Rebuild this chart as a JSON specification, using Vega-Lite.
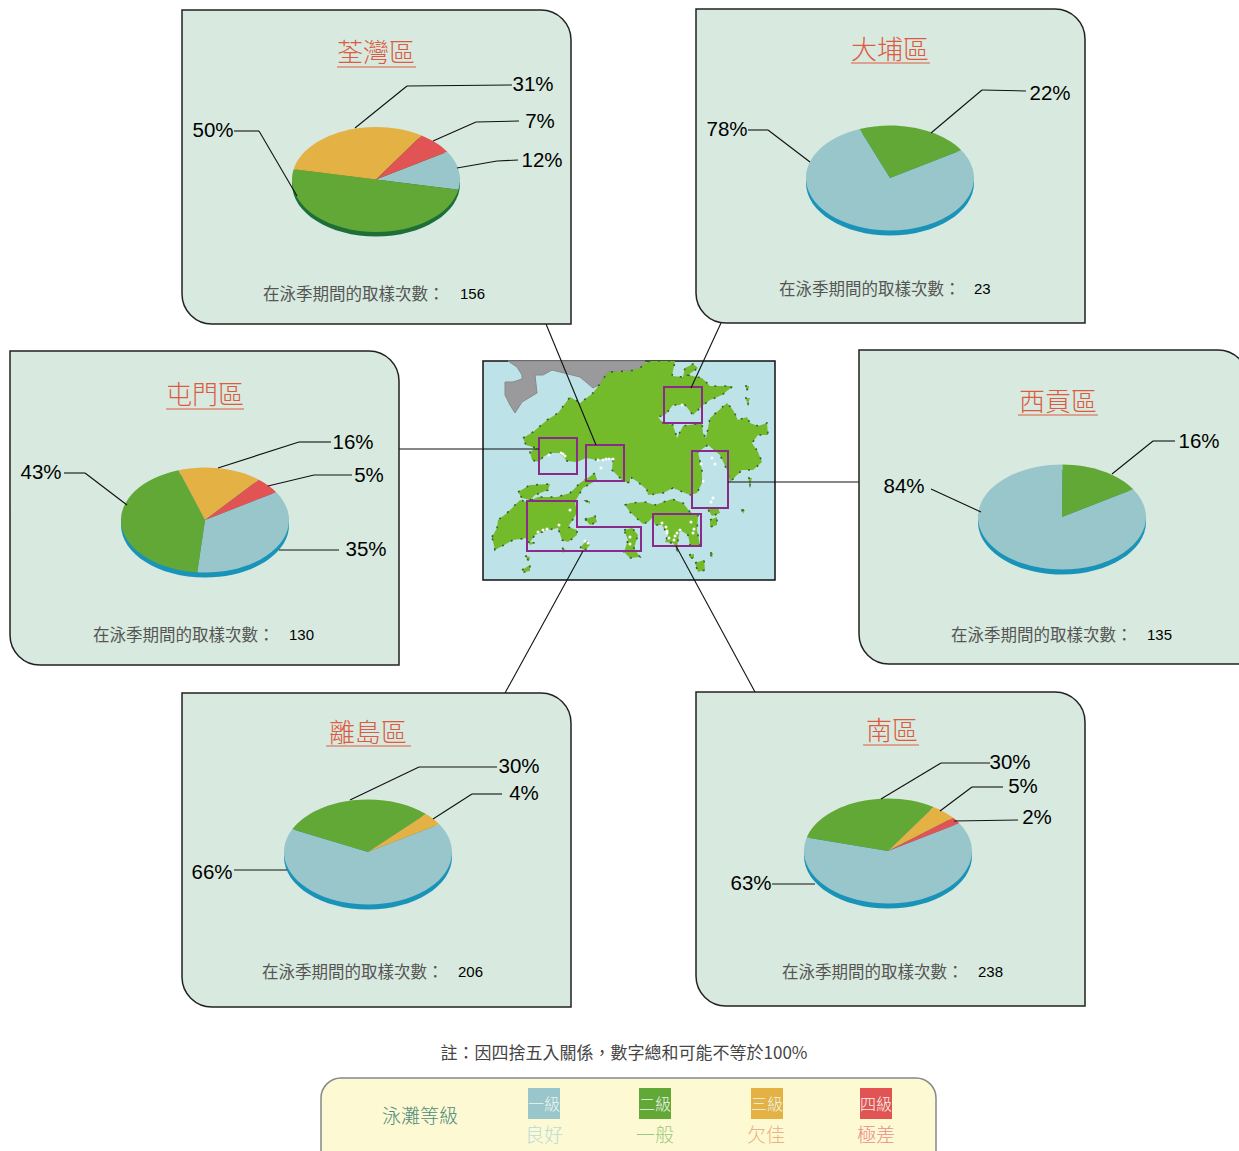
{"$schema":"https://vega.github.io/schema/vega-lite/v6.json","width":1239,"height":1151,"padding":0,"autosize":{"type":"none"},"background":"#ffffff",
"config":{"view":{"stroke":null},"axis":{"disable":true},"legend":{"disable":true},"rule":{"stroke":"#111111","strokeWidth":1.1},
"style":{"pct":{"font":"Liberation Sans","fontSize":20.5,"fill":"#111111","dy":1},"ttl":{"font":"Noto Sans CJK TC","fontSize":26,"fontWeight":300,"dy":1.5},"smp":{"font":"Noto Sans CJK TC","fontSize":16.5,"align":"left","dy":1},"num":{"font":"Liberation Sans","fontSize":15,"fill":"#111111","align":"left"},"lgd":{"font":"Noto Sans CJK TC","fontSize":19,"fontWeight":300,"dy":1}}},
"datasets":{
"pies":[
{"district":"荃灣區","grade_no":1,"grade":"良好","percent":12},{"district":"荃灣區","grade_no":2,"grade":"一般","percent":50},{"district":"荃灣區","grade_no":3,"grade":"欠佳","percent":31},{"district":"荃灣區","grade_no":4,"grade":"極差","percent":7},
{"district":"大埔區","grade_no":1,"grade":"良好","percent":78},{"district":"大埔區","grade_no":2,"grade":"一般","percent":22},
{"district":"西貢區","grade_no":1,"grade":"良好","percent":84},{"district":"西貢區","grade_no":2,"grade":"一般","percent":16},
{"district":"屯門區","grade_no":1,"grade":"良好","percent":35},{"district":"屯門區","grade_no":2,"grade":"一般","percent":43},{"district":"屯門區","grade_no":3,"grade":"欠佳","percent":16},{"district":"屯門區","grade_no":4,"grade":"極差","percent":5},
{"district":"離島區","grade_no":1,"grade":"良好","percent":66},{"district":"離島區","grade_no":2,"grade":"一般","percent":30},{"district":"離島區","grade_no":3,"grade":"欠佳","percent":4},
{"district":"南區","grade_no":1,"grade":"良好","percent":63},{"district":"南區","grade_no":2,"grade":"一般","percent":30},{"district":"南區","grade_no":3,"grade":"欠佳","percent":5},{"district":"南區","grade_no":4,"grade":"極差","percent":2}],
"shenzhen":[{"type":"Feature","properties":{},"geometry":{"type":"Polygon","coordinates":[[[508,361],[517,367],[522,375],[522,379],[513,382],[505,382],[505,395],[510,405],[515,413],[522,402],[537,393],[535,375],[543,375],[552,370],[580,377],[593,388],[599,385],[608,372],[620,371],[630,371],[638,372],[645,368],[645,361],[508,361]]]}}],
"land":[{"type":"Feature","properties":{"name":"land"},"geometry":{"type":"MultiPolygon","coordinates":[
[[[523,438],[533,432],[547,420],[558,413],[570,397],[580,403],[593,393],[599,385],[608,372],[630,371],[640,368],[645,363],[650,361],[675,361],[672,376],[683,377],[685,368],[693,364],[698,368],[688,375],[702,378],[710,386],[733,386],[722,395],[710,400],[702,406],[693,415],[685,405],[673,405],[665,415],[658,417],[663,423],[673,425],[677,438],[683,426],[702,423],[703,433],[706,438],[710,418],[727,403],[733,410],[738,420],[747,417],[750,423],[758,426],[767,423],[768,435],[758,435],[752,443],[758,452],[762,462],[753,470],[742,470],[730,482],[727,470],[720,455],[708,445],[698,452],[702,470],[702,483],[697,493],[690,495],[673,488],[663,493],[648,495],[647,490],[638,482],[630,477],[630,483],[623,481],[612,470],[613,458],[597,460],[586,458],[577,462],[567,461],[560,453],[550,453],[543,457],[539,462],[532,460],[530,452],[536,448],[526,445],[523,438]]],
[[[625,505],[630,503],[645,502],[655,505],[672,499],[683,503],[690,512],[698,515],[697,530],[700,545],[690,545],[688,535],[680,530],[678,540],[677,550],[673,543],[665,542],[668,535],[662,525],[655,525],[653,517],[648,522],[643,524],[630,512],[625,505]]],
[[[492,537],[497,528],[498,520],[507,513],[520,500],[527,502],[538,497],[557,497],[570,493],[580,483],[595,473],[597,480],[583,488],[580,493],[575,502],[577,513],[568,527],[577,530],[577,535],[568,542],[562,540],[558,528],[547,530],[535,535],[530,542],[535,543],[530,545],[527,538],[513,540],[495,550],[492,537]]],
[[[518,492],[530,485],[550,484],[548,490],[535,495],[530,500],[522,498],[518,492]]],
[[[624,530],[632,528],[638,535],[634,548],[640,557],[630,558],[624,552],[628,540],[624,530]]],
[[[707,508],[718,508],[720,513],[712,516],[707,508]]],
[[[710,520],[717,517],[717,525],[710,527],[710,520]]],
[[[695,563],[704,560],[705,570],[698,572],[695,563]]],
[[[689,555],[694,554],[694,558],[690,558],[689,555]]],
[[[710,553],[713,553],[712,558],[710,553]]],
[[[586,501],[590,501],[590,504],[586,501]]],
[[[585,519],[595,516],[597,522],[590,525],[585,519]]],
[[[580,548],[586,541],[590,545],[585,550],[580,548]]],
[[[522,570],[530,565],[530,571],[524,572],[522,570]]],
[[[525,556],[530,557],[529,561],[525,556]]],
[[[562,548],[566,550],[563,553],[562,548]]],
[[[745,386],[749,386],[748,391],[745,386]]],
[[[745,398],[750,398],[748,404],[745,398]]],
[[[748,478],[752,478],[750,485],[748,478]]],
[[[742,510],[745,510],[743,514],[742,510]]]
]}}],
"zones":[{"type":"Feature","properties":{"name":"屯門區"},"geometry":{"type":"Polygon","coordinates":[[[539,438],[577,438],[577,474],[539,474],[539,438]]]}},
{"type":"Feature","properties":{"name":"荃灣區"},"geometry":{"type":"Polygon","coordinates":[[[586,445],[624,445],[624,481],[586,481],[586,445]]]}},
{"type":"Feature","properties":{"name":"大埔區"},"geometry":{"type":"Polygon","coordinates":[[[664,387],[702,387],[702,423],[664,423],[664,387]]]}},
{"type":"Feature","properties":{"name":"西貢區"},"geometry":{"type":"Polygon","coordinates":[[[692,451],[728,451],[728,508],[692,508],[692,451]]]}},
{"type":"Feature","properties":{"name":"南區"},"geometry":{"type":"Polygon","coordinates":[[[653,514],[701,514],[701,546],[653,546],[653,514]]]}},
{"type":"Feature","properties":{"name":"離島區"},"geometry":{"type":"Polygon","coordinates":[[[527,501],[577,501],[577,527],[641,527],[641,551],[527,551],[527,501]]]}}],
"beaches":[{"lon":549,"lat":455},{"lon":561,"lat":453},{"lon":563,"lat":454},{"lon":565,"lat":456},{"lon":598,"lat":460},{"lon":603,"lat":460},{"lon":606,"lat":459},{"lon":609,"lat":459},{"lon":613,"lat":459},{"lon":601,"lat":468},{"lon":682,"lat":405},{"lon":712,"lat":458},{"lon":715,"lat":464},{"lon":701,"lat":464},{"lon":703,"lat":481},{"lon":713,"lat":498},{"lon":711,"lat":502},{"lon":662,"lat":523},{"lon":666,"lat":527},{"lon":667,"lat":531},{"lon":667,"lat":533},{"lon":669,"lat":538},{"lon":674,"lat":540},{"lon":675,"lat":536},{"lon":677,"lat":533},{"lon":680,"lat":530},{"lon":691,"lat":522},{"lon":694,"lat":529},{"lon":693,"lat":533},{"lon":570,"lat":510},{"lon":559,"lat":525},{"lon":547,"lat":529},{"lon":543,"lat":530},{"lon":538,"lat":532},{"lon":585,"lat":541},{"lon":588,"lat":543},{"lon":630,"lat":537},{"lon":630,"lat":544}]
},
"data":{"values":[{}]},
"layer":[
{"mark":{"type":"rect","fill":"#bde2e8","stroke":"#111111","strokeWidth":1.5},"encoding":{"x":{"datum":483,"scale":{"domain":[0,1239],"nice":false}},"x2":{"datum":775},"y":{"datum":361,"scale":{"domain":[0,1151],"reverse":true,"nice":false}},"y2":{"datum":580}}},
{"projection":{"type":"identity","scale":1,"translate":[0,0]},"layer":[
{"data":{"name":"shenzhen"},"mark":{"type":"geoshape","fill":"#9a999b","stroke":"#8a898b","strokeWidth":1}},
{"data":{"name":"land"},"mark":{"type":"geoshape","fill":"#73bb2b","stroke":"#3f5f2c","strokeWidth":1.6,"strokeDash":[2,8]}},
{"data":{"name":"zones"},"mark":{"type":"geoshape","fill":null,"stroke":"#8b2a8b","strokeWidth":2}},
{"data":{"name":"beaches"},"mark":{"type":"point","filled":true,"fill":"#ffffff","opacity":1,"size":9},"encoding":{"longitude":{"field":"lon","type":"quantitative"},"latitude":{"field":"lat","type":"quantitative"}}}
]},
{"mark":"rule","encoding":{"x":{"datum":546},"y":{"datum":324},"x2":{"datum":596},"y2":{"datum":445}}},
{"mark":"rule","encoding":{"x":{"datum":721},"y":{"datum":323},"x2":{"datum":691},"y2":{"datum":388}}},
{"mark":"rule","encoding":{"x":{"datum":399},"y":{"datum":449},"x2":{"datum":539},"y2":{"datum":449}}},
{"mark":"rule","encoding":{"x":{"datum":728},"y":{"datum":482},"x2":{"datum":859},"y2":{"datum":482}}},
{"mark":"rule","encoding":{"x":{"datum":505},"y":{"datum":693},"x2":{"datum":583},"y2":{"datum":551}}},
{"mark":"rule","encoding":{"x":{"datum":755},"y":{"datum":692},"x2":{"datum":676},"y2":{"datum":546}}},
{"mark":{"type":"rect","fill":"#d8eadf","stroke":"#222222","strokeWidth":1.5,"cornerRadiusTopRight":30,"cornerRadiusBottomLeft":30},"encoding":{"x":{"datum":182},"x2":{"datum":571},"y":{"datum":10},"y2":{"datum":324}}},
{"mark":{"type":"rect","fill":"#d8eadf","stroke":"#222222","strokeWidth":1.5,"cornerRadiusTopRight":30,"cornerRadiusBottomLeft":30},"encoding":{"x":{"datum":696},"x2":{"datum":1085},"y":{"datum":9},"y2":{"datum":323}}},
{"mark":{"type":"rect","fill":"#d8eadf","stroke":"#222222","strokeWidth":1.5,"cornerRadiusTopRight":30,"cornerRadiusBottomLeft":30},"encoding":{"x":{"datum":10},"x2":{"datum":399},"y":{"datum":351},"y2":{"datum":665}}},
{"mark":{"type":"rect","fill":"#d8eadf","stroke":"#222222","strokeWidth":1.5,"cornerRadiusTopRight":30,"cornerRadiusBottomLeft":30,"x2Offset":9},"encoding":{"x":{"datum":859},"x2":{"datum":1239},"y":{"datum":350},"y2":{"datum":664}}},
{"mark":{"type":"rect","fill":"#d8eadf","stroke":"#222222","strokeWidth":1.5,"cornerRadiusTopRight":30,"cornerRadiusBottomLeft":30},"encoding":{"x":{"datum":182},"x2":{"datum":571},"y":{"datum":693},"y2":{"datum":1007}}},
{"mark":{"type":"rect","fill":"#d8eadf","stroke":"#222222","strokeWidth":1.5,"cornerRadiusTopRight":30,"cornerRadiusBottomLeft":30},"encoding":{"x":{"datum":696},"x2":{"datum":1085},"y":{"datum":692},"y2":{"datum":1006}}},
{"mark":{"type":"point","filled":true,"opacity":1,"size":28224,"color":"#1e6f37","shape":"M-1,0A1,0.625 0 1 1 1,0A1,0.625 0 1 1 -1,0Z"},"encoding":{"x":{"datum":376},"y":{"datum":184}}},
{"mark":{"type":"point","filled":true,"opacity":1,"size":28224,"color":"#1a93b9","shape":"M-1,0A1,0.625 0 1 1 1,0A1,0.625 0 1 1 -1,0Z"},"encoding":{"x":{"datum":890},"y":{"datum":183}}},
{"mark":{"type":"point","filled":true,"opacity":1,"size":28224,"color":"#1a93b9","shape":"M-1,0A1,0.625 0 1 1 1,0A1,0.625 0 1 1 -1,0Z"},"encoding":{"x":{"datum":1062},"y":{"datum":522}}},
{"mark":{"type":"point","filled":true,"opacity":1,"size":28224,"color":"#1a93b9","shape":"M-1,0A1,0.625 0 1 1 1,0A1,0.625 0 1 1 -1,0Z"},"encoding":{"x":{"datum":205},"y":{"datum":525}}},
{"mark":{"type":"point","filled":true,"opacity":1,"size":28224,"color":"#1a93b9","shape":"M-1,0A1,0.625 0 1 1 1,0A1,0.625 0 1 1 -1,0Z"},"encoding":{"x":{"datum":368},"y":{"datum":857}}},
{"mark":{"type":"point","filled":true,"opacity":1,"size":28224,"color":"#1a93b9","shape":"M-1,0A1,0.625 0 1 1 1,0A1,0.625 0 1 1 -1,0Z"},"encoding":{"x":{"datum":888},"y":{"datum":856}}},
{"data":{"name":"pies"},
"transform":[{"joinaggregate":[{"op":"sum","field":"percent","as":"total"}],"groupby":["district"]},
{"window":[{"op":"sum","field":"percent","as":"cum"}],"groupby":["district"],"sort":[{"field":"grade_no","order":"ascending"}]},
{"calculate":"5.7247+2*PI*(datum.cum-datum.percent)/datum.total","as":"t0"},
{"calculate":"5.7247+2*PI*datum.cum/datum.total","as":"t1"},
{"calculate":"'M0,0L'+round(cos(datum.t0)*1e4)/1e4+','+round(0.625*sin(datum.t0)*1e4)/1e4+'A1,0.625 0 '+(datum.percent/datum.total>0.5?1:0)+' 1 '+round(cos(datum.t1)*1e4)/1e4+','+round(0.625*sin(datum.t1)*1e4)/1e4+'Z'","as":"slice"}],
"encoding":{"shape":{"field":"slice","type":"nominal","scale":null},"color":{"field":"grade","type":"nominal","scale":{"domain":["良好","一般","欠佳","極差"],"range":["#98c6cb","#62a836","#e3b144","#e25353"]},"legend":null}},
"layer":[
{"transform":[{"filter":"datum.district==='荃灣區'"}],"mark":{"type":"point","filled":true,"opacity":1,"size":28224},"encoding":{"x":{"datum":376},"y":{"datum":179.5}}},
{"transform":[{"filter":"datum.district==='大埔區'"}],"mark":{"type":"point","filled":true,"opacity":1,"size":28224},"encoding":{"x":{"datum":890},"y":{"datum":178}}},
{"transform":[{"filter":"datum.district==='西貢區'"}],"mark":{"type":"point","filled":true,"opacity":1,"size":28224},"encoding":{"x":{"datum":1062},"y":{"datum":517}}},
{"transform":[{"filter":"datum.district==='屯門區'"}],"mark":{"type":"point","filled":true,"opacity":1,"size":28224},"encoding":{"x":{"datum":205},"y":{"datum":520}}},
{"transform":[{"filter":"datum.district==='離島區'"}],"mark":{"type":"point","filled":true,"opacity":1,"size":28224},"encoding":{"x":{"datum":368},"y":{"datum":852}}},
{"transform":[{"filter":"datum.district==='南區'"}],"mark":{"type":"point","filled":true,"opacity":1,"size":28224},"encoding":{"x":{"datum":888},"y":{"datum":851}}}
]},
{"mark":"rule","encoding":{"x":{"datum":355},"y":{"datum":128},"x2":{"datum":407},"y2":{"datum":86}}},
{"mark":"rule","encoding":{"x":{"datum":407},"y":{"datum":86},"x2":{"datum":512},"y2":{"datum":85}}},
{"mark":"rule","encoding":{"x":{"datum":433},"y":{"datum":141},"x2":{"datum":476},"y2":{"datum":122}}},
{"mark":"rule","encoding":{"x":{"datum":476},"y":{"datum":122},"x2":{"datum":519},"y2":{"datum":121}}},
{"mark":"rule","encoding":{"x":{"datum":457},"y":{"datum":168},"x2":{"datum":497},"y2":{"datum":161}}},
{"mark":"rule","encoding":{"x":{"datum":497},"y":{"datum":161},"x2":{"datum":518},"y2":{"datum":160}}},
{"mark":"rule","encoding":{"x":{"datum":297},"y":{"datum":196},"x2":{"datum":259},"y2":{"datum":131}}},
{"mark":"rule","encoding":{"x":{"datum":259},"y":{"datum":131},"x2":{"datum":234},"y2":{"datum":131}}},
{"mark":"rule","encoding":{"x":{"datum":931},"y":{"datum":133},"x2":{"datum":982},"y2":{"datum":90}}},
{"mark":"rule","encoding":{"x":{"datum":982},"y":{"datum":90},"x2":{"datum":1026},"y2":{"datum":91}}},
{"mark":"rule","encoding":{"x":{"datum":810},"y":{"datum":162},"x2":{"datum":768},"y2":{"datum":130}}},
{"mark":"rule","encoding":{"x":{"datum":768},"y":{"datum":130},"x2":{"datum":748},"y2":{"datum":130}}},
{"mark":"rule","encoding":{"x":{"datum":1112},"y":{"datum":474},"x2":{"datum":1153},"y2":{"datum":441}}},
{"mark":"rule","encoding":{"x":{"datum":1153},"y":{"datum":441},"x2":{"datum":1175},"y2":{"datum":441}}},
{"mark":"rule","encoding":{"x":{"datum":981},"y":{"datum":512},"x2":{"datum":931},"y2":{"datum":489}}},
{"mark":"rule","encoding":{"x":{"datum":218},"y":{"datum":468},"x2":{"datum":299},"y2":{"datum":442}}},
{"mark":"rule","encoding":{"x":{"datum":299},"y":{"datum":442},"x2":{"datum":331},"y2":{"datum":442}}},
{"mark":"rule","encoding":{"x":{"datum":268},"y":{"datum":486},"x2":{"datum":314},"y2":{"datum":475}}},
{"mark":"rule","encoding":{"x":{"datum":314},"y":{"datum":475},"x2":{"datum":352},"y2":{"datum":475}}},
{"mark":"rule","encoding":{"x":{"datum":279},"y":{"datum":550},"x2":{"datum":339},"y2":{"datum":550}}},
{"mark":"rule","encoding":{"x":{"datum":127},"y":{"datum":505},"x2":{"datum":85},"y2":{"datum":473}}},
{"mark":"rule","encoding":{"x":{"datum":85},"y":{"datum":473},"x2":{"datum":64},"y2":{"datum":473}}},
{"mark":"rule","encoding":{"x":{"datum":350},"y":{"datum":800},"x2":{"datum":419},"y2":{"datum":767}}},
{"mark":"rule","encoding":{"x":{"datum":419},"y":{"datum":767},"x2":{"datum":497},"y2":{"datum":767}}},
{"mark":"rule","encoding":{"x":{"datum":433},"y":{"datum":819},"x2":{"datum":472},"y2":{"datum":794}}},
{"mark":"rule","encoding":{"x":{"datum":472},"y":{"datum":794},"x2":{"datum":502},"y2":{"datum":794}}},
{"mark":"rule","encoding":{"x":{"datum":287},"y":{"datum":870},"x2":{"datum":234},"y2":{"datum":870}}},
{"mark":"rule","encoding":{"x":{"datum":881},"y":{"datum":799},"x2":{"datum":941},"y2":{"datum":763}}},
{"mark":"rule","encoding":{"x":{"datum":941},"y":{"datum":763},"x2":{"datum":990},"y2":{"datum":763}}},
{"mark":"rule","encoding":{"x":{"datum":940},"y":{"datum":811},"x2":{"datum":972},"y2":{"datum":787}}},
{"mark":"rule","encoding":{"x":{"datum":972},"y":{"datum":787},"x2":{"datum":1003},"y2":{"datum":787}}},
{"mark":"rule","encoding":{"x":{"datum":954},"y":{"datum":821},"x2":{"datum":1018},"y2":{"datum":820}}},
{"mark":"rule","encoding":{"x":{"datum":815},"y":{"datum":884},"x2":{"datum":772},"y2":{"datum":884}}},
{"mark":{"type":"text","style":"pct"},"encoding":{"x":{"datum":533},"y":{"datum":84},"text":{"value":"31%"}}},
{"mark":{"type":"text","style":"pct"},"encoding":{"x":{"datum":540},"y":{"datum":121},"text":{"value":"7%"}}},
{"mark":{"type":"text","style":"pct"},"encoding":{"x":{"datum":542},"y":{"datum":160},"text":{"value":"12%"}}},
{"mark":{"type":"text","style":"pct"},"encoding":{"x":{"datum":213},"y":{"datum":130},"text":{"value":"50%"}}},
{"mark":{"type":"text","style":"pct"},"encoding":{"x":{"datum":1050},"y":{"datum":93},"text":{"value":"22%"}}},
{"mark":{"type":"text","style":"pct"},"encoding":{"x":{"datum":727},"y":{"datum":129},"text":{"value":"78%"}}},
{"mark":{"type":"text","style":"pct"},"encoding":{"x":{"datum":1199},"y":{"datum":441},"text":{"value":"16%"}}},
{"mark":{"type":"text","style":"pct"},"encoding":{"x":{"datum":904},"y":{"datum":486},"text":{"value":"84%"}}},
{"mark":{"type":"text","style":"pct"},"encoding":{"x":{"datum":353},"y":{"datum":442},"text":{"value":"16%"}}},
{"mark":{"type":"text","style":"pct"},"encoding":{"x":{"datum":369},"y":{"datum":475},"text":{"value":"5%"}}},
{"mark":{"type":"text","style":"pct"},"encoding":{"x":{"datum":366},"y":{"datum":549},"text":{"value":"35%"}}},
{"mark":{"type":"text","style":"pct"},"encoding":{"x":{"datum":41},"y":{"datum":472},"text":{"value":"43%"}}},
{"mark":{"type":"text","style":"pct"},"encoding":{"x":{"datum":519},"y":{"datum":766},"text":{"value":"30%"}}},
{"mark":{"type":"text","style":"pct"},"encoding":{"x":{"datum":524},"y":{"datum":793},"text":{"value":"4%"}}},
{"mark":{"type":"text","style":"pct"},"encoding":{"x":{"datum":212},"y":{"datum":872},"text":{"value":"66%"}}},
{"mark":{"type":"text","style":"pct"},"encoding":{"x":{"datum":1010},"y":{"datum":762},"text":{"value":"30%"}}},
{"mark":{"type":"text","style":"pct"},"encoding":{"x":{"datum":1023},"y":{"datum":786},"text":{"value":"5%"}}},
{"mark":{"type":"text","style":"pct"},"encoding":{"x":{"datum":1037},"y":{"datum":817},"text":{"value":"2%"}}},
{"mark":{"type":"text","style":"pct"},"encoding":{"x":{"datum":751},"y":{"datum":883},"text":{"value":"63%"}}},
{"mark":{"type":"text","style":"ttl","fill":"#dc5a41"},"encoding":{"x":{"datum":376},"y":{"datum":52},"text":{"value":"荃灣區"}}},
{"mark":{"type":"text","style":"ttl","fill":"#dc5a41"},"encoding":{"x":{"datum":890},"y":{"datum":49},"text":{"value":"大埔區"}}},
{"mark":{"type":"text","style":"ttl","fill":"#dc5a41"},"encoding":{"x":{"datum":1058},"y":{"datum":401},"text":{"value":"西貢區"}}},
{"mark":{"type":"text","style":"ttl","fill":"#dc5a41"},"encoding":{"x":{"datum":205},"y":{"datum":394},"text":{"value":"屯門區"}}},
{"mark":{"type":"text","style":"ttl","fill":"#dc5a41"},"encoding":{"x":{"datum":368},"y":{"datum":732},"text":{"value":"離島區"}}},
{"mark":{"type":"text","style":"ttl","fill":"#dc5a41"},"encoding":{"x":{"datum":892},"y":{"datum":730},"text":{"value":"南區"}}},
{"mark":{"type":"rule","stroke":"#dc5a41"},"encoding":{"x":{"datum":337},"x2":{"datum":416},"y":{"datum":67},"y2":{"datum":67}}},
{"mark":{"type":"rule","stroke":"#dc5a41"},"encoding":{"x":{"datum":851},"x2":{"datum":930},"y":{"datum":63},"y2":{"datum":63}}},
{"mark":{"type":"rule","stroke":"#dc5a41"},"encoding":{"x":{"datum":1018},"x2":{"datum":1098},"y":{"datum":415},"y2":{"datum":415}}},
{"mark":{"type":"rule","stroke":"#dc5a41"},"encoding":{"x":{"datum":166},"x2":{"datum":244},"y":{"datum":409},"y2":{"datum":409}}},
{"mark":{"type":"rule","stroke":"#dc5a41"},"encoding":{"x":{"datum":326},"x2":{"datum":411},"y":{"datum":746},"y2":{"datum":746}}},
{"mark":{"type":"rule","stroke":"#dc5a41"},"encoding":{"x":{"datum":863},"x2":{"datum":919},"y":{"datum":745},"y2":{"datum":745}}},
{"mark":{"type":"text","style":"smp","fill":"#555555"},"encoding":{"x":{"datum":263},"y":{"datum":294},"text":{"value":"在泳季期間的取樣次數："}}},
{"mark":{"type":"text","style":"smp","fill":"#555555"},"encoding":{"x":{"datum":779},"y":{"datum":289},"text":{"value":"在泳季期間的取樣次數："}}},
{"mark":{"type":"text","style":"smp","fill":"#555555"},"encoding":{"x":{"datum":93},"y":{"datum":635},"text":{"value":"在泳季期間的取樣次數："}}},
{"mark":{"type":"text","style":"smp","fill":"#555555"},"encoding":{"x":{"datum":951},"y":{"datum":635},"text":{"value":"在泳季期間的取樣次數："}}},
{"mark":{"type":"text","style":"smp","fill":"#555555"},"encoding":{"x":{"datum":262},"y":{"datum":972},"text":{"value":"在泳季期間的取樣次數："}}},
{"mark":{"type":"text","style":"smp","fill":"#555555"},"encoding":{"x":{"datum":782},"y":{"datum":972},"text":{"value":"在泳季期間的取樣次數："}}},
{"mark":{"type":"text","style":"num"},"encoding":{"x":{"datum":460},"y":{"datum":294},"text":{"value":"156"}}},
{"mark":{"type":"text","style":"num"},"encoding":{"x":{"datum":974},"y":{"datum":289},"text":{"value":"23"}}},
{"mark":{"type":"text","style":"num"},"encoding":{"x":{"datum":289},"y":{"datum":635},"text":{"value":"130"}}},
{"mark":{"type":"text","style":"num"},"encoding":{"x":{"datum":1147},"y":{"datum":635},"text":{"value":"135"}}},
{"mark":{"type":"text","style":"num"},"encoding":{"x":{"datum":458},"y":{"datum":972},"text":{"value":"206"}}},
{"mark":{"type":"text","style":"num"},"encoding":{"x":{"datum":978},"y":{"datum":972},"text":{"value":"238"}}},
{"mark":{"type":"text","font":"Noto Sans CJK TC","fontSize":17,"fill":"#444444","dy":1},"encoding":{"x":{"datum":624},"y":{"datum":1053},"text":{"value":"註：因四捨五入關係，數字總和可能不等於100%"}}},
{"mark":{"type":"rect","fill":"#fcf9d3","stroke":"#888888","strokeWidth":1.5,"cornerRadius":20,"y2Offset":19},"encoding":{"x":{"datum":321},"x2":{"datum":936},"y":{"datum":1078},"y2":{"datum":1151}}},
{"mark":{"type":"text","style":"lgd","fill":"#4d8a7c"},"encoding":{"x":{"datum":420},"y":{"datum":1116},"text":{"value":"泳灘等級"}}},
{"mark":{"type":"rect","fill":"#98c6cb"},"encoding":{"x":{"datum":528},"x2":{"datum":560},"y":{"datum":1088},"y2":{"datum":1119}}},
{"mark":{"type":"rect","fill":"#62a836"},"encoding":{"x":{"datum":639},"x2":{"datum":671},"y":{"datum":1088},"y2":{"datum":1119}}},
{"mark":{"type":"rect","fill":"#e3b144"},"encoding":{"x":{"datum":751},"x2":{"datum":783},"y":{"datum":1088},"y2":{"datum":1119}}},
{"mark":{"type":"rect","fill":"#e25353"},"encoding":{"x":{"datum":860},"x2":{"datum":892},"y":{"datum":1088},"y2":{"datum":1119}}},
{"mark":{"type":"text","style":"lgd","fontSize":16,"fill":"#eef5ee"},"encoding":{"x":{"datum":544},"y":{"datum":1104},"text":{"value":"一級"}}},
{"mark":{"type":"text","style":"lgd","fontSize":16,"fill":"#eef5ee"},"encoding":{"x":{"datum":655},"y":{"datum":1104},"text":{"value":"二級"}}},
{"mark":{"type":"text","style":"lgd","fontSize":16,"fill":"#eef5ee"},"encoding":{"x":{"datum":767},"y":{"datum":1104},"text":{"value":"三級"}}},
{"mark":{"type":"text","style":"lgd","fontSize":16,"fill":"#eef5ee"},"encoding":{"x":{"datum":876},"y":{"datum":1104},"text":{"value":"四級"}}},
{"mark":{"type":"text","style":"lgd","fill":"#b8dcdc"},"encoding":{"x":{"datum":544},"y":{"datum":1135},"text":{"value":"良好"}}},
{"mark":{"type":"text","style":"lgd","fill":"#9cc97e"},"encoding":{"x":{"datum":655},"y":{"datum":1135},"text":{"value":"一般"}}},
{"mark":{"type":"text","style":"lgd","fill":"#eeb080"},"encoding":{"x":{"datum":766},"y":{"datum":1135},"text":{"value":"欠佳"}}},
{"mark":{"type":"text","style":"lgd","fill":"#ee8a8a"},"encoding":{"x":{"datum":876},"y":{"datum":1135},"text":{"value":"極差"}}}
]}
